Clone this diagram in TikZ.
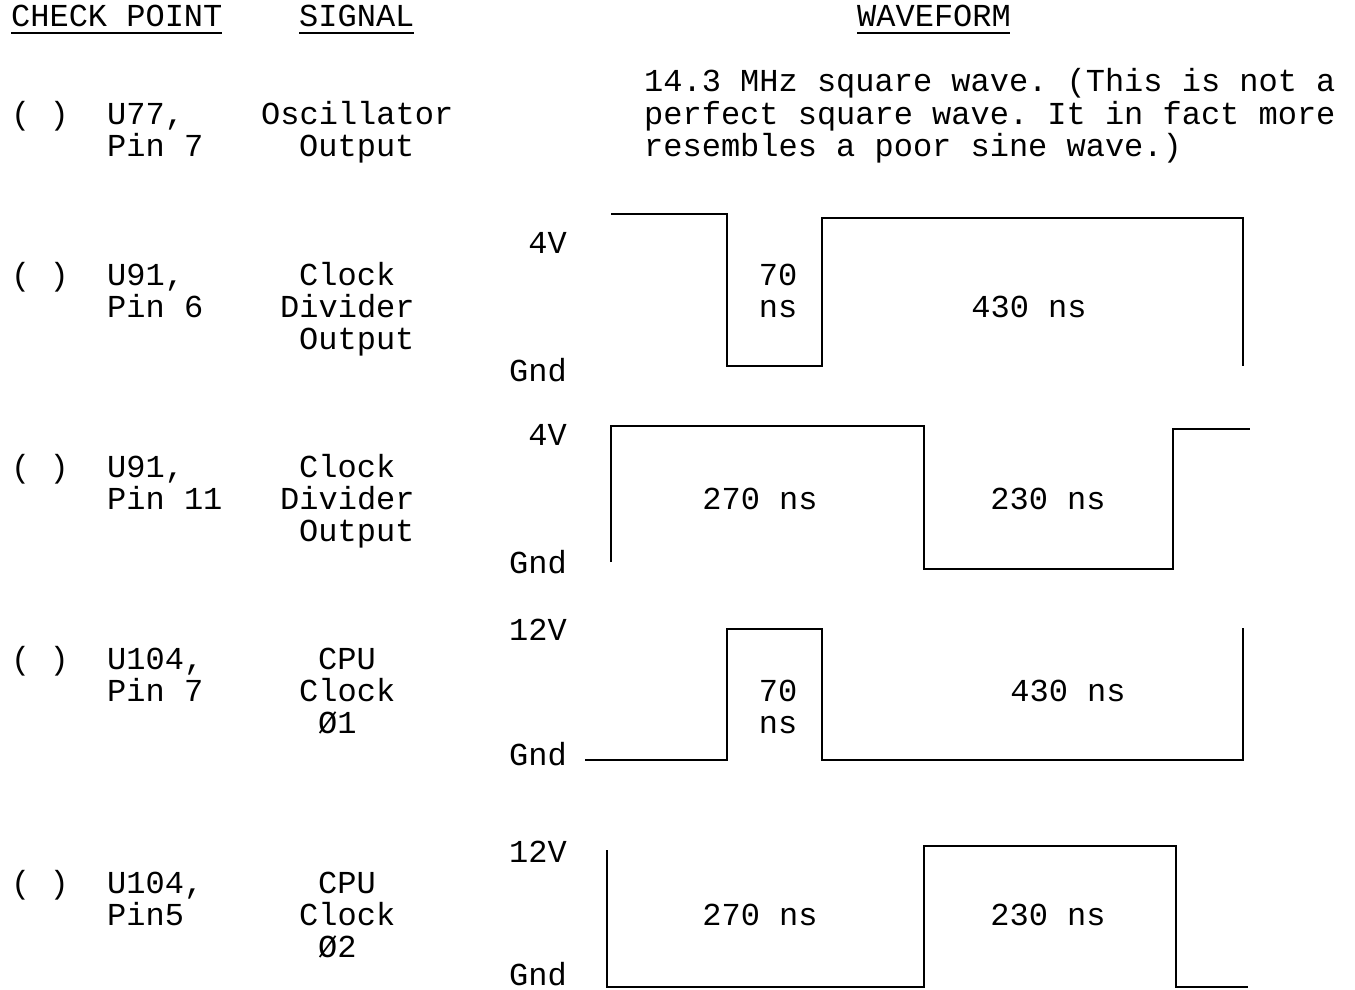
\documentclass[tikz,border=0pt]{standalone}
\usepackage{fontspec}
\setmonofont{Liberation Mono}
\tikzset{
    txt/.style={anchor=base west, inner sep=0pt, font=\ttfamily\fontsize{32}{32}\selectfont},
    ctxt/.style={txt, anchor=base},
    rtxt/.style={txt, anchor=base east},
    wave/.style={line width=2.5pt},
}
\begin{document}
\begin{tikzpicture}[x=1pt,y=-1pt]
    \useasboundingbox (0,0) rectangle (1355,990);
    % headings
    \node[txt] (hcp) at (11,27) {CHECK POINT};
    \node[txt] (hsig) at (299,27) {SIGNAL};
    \node[txt] (hwave) at (857,27) {WAVEFORM};
    \draw[line width=1.5pt] (hcp.base west) ++(0,6) -- ++(211,0);
    \draw[line width=1.5pt] (hsig.base west) ++(0,6) -- ++(115,0);
    \draw[line width=1.5pt] (hwave.base west) ++(0,6) -- ++(153,0);

    % U77 pin 7
    \node[txt] (b1) at (11,124) {( )};
    \node[txt] (cp1a) at (107,124) {U77,};
    \node[txt] (cp1b) at (107,156) {Pin 7};
    \node[txt] (s1a) at (261,124) {Oscillator};
    \node[txt] (s1b) at (299,156) {Output};
    \node[txt] (w1a) at (644,92) {14.3 MHz square wave. (This is not a};
    \node[txt] (w1b) at (644,124) {perfect square wave. It in fact more};
    \node[txt] (w1c) at (644,156) {resembles a poor sine wave.)};

    % U91 pin 6
    \node[txt] (b2) at (11,285) {( )};
    \node[txt] (cp2a) at (107,285) {U91,};
    \node[txt] (cp2b) at (107,317) {Pin 6};
    \node[txt] (s2a) at (299,285) {Clock};
    \node[txt] (s2b) at (280,317) {Divider};
    \node[txt] (s2c) at (299,349) {Output};
    \node[rtxt] (hi2) at (567,253) {4V};
    \node[rtxt] (lo2) at (567,381) {Gnd};
    \draw[wave] (611,214) -- (727,214) -- (727,366) -- (822,366) -- (822,218) -- (1243,218) -- (1243,366);
    \node[ctxt] (t2a) at (778,285) {70};
    \node[ctxt] (t2b) at (778,317) {ns};
    \node[ctxt] (t2c) at (1029,317) {430 ns};

    % U91 pin 11
    \node[txt] (b3) at (11,477) {( )};
    \node[txt] (cp3a) at (107,477) {U91,};
    \node[txt] (cp3b) at (107,509) {Pin 11};
    \node[txt] (s3a) at (299,477) {Clock};
    \node[txt] (s3b) at (280,509) {Divider};
    \node[txt] (s3c) at (299,541) {Output};
    \node[rtxt] (hi3) at (567,445) {4V};
    \node[rtxt] (lo3) at (567,573) {Gnd};
    \draw[wave] (611,562) -- (611,426) -- (924,426) -- (924,569) -- (1173,569) -- (1173,429) -- (1250,429);
    \node[ctxt] (t3a) at (760,509) {270 ns};
    \node[ctxt] (t3b) at (1048,509) {230 ns};

    % U104 pin 7
    \node[txt] (b4) at (11,669) {( )};
    \node[txt] (cp4a) at (107,669) {U104,};
    \node[txt] (cp4b) at (107,701) {Pin 7};
    \node[txt] (s4a) at (318,669) {CPU};
    \node[txt] (s4b) at (299,701) {Clock};
    \node[txt] (s4c) at (318,733) {Ø1};
    \node[rtxt] (hi4) at (567,640) {12V};
    \node[rtxt] (lo4) at (567,765) {Gnd};
    \draw[wave] (585,760) -- (727,760) -- (727,629) -- (822,629) -- (822,760) -- (1243,760) -- (1243,628);
    \node[ctxt] (t4a) at (778,701) {70};
    \node[ctxt] (t4b) at (778,733) {ns};
    \node[ctxt] (t4c) at (1068,701) {430 ns};

    % U104 pin 5
    \node[txt] (b5) at (11,893) {( )};
    \node[txt] (cp5a) at (107,893) {U104,};
    \node[txt] (cp5b) at (107,925) {Pin5};
    \node[txt] (s5a) at (318,893) {CPU};
    \node[txt] (s5b) at (299,925) {Clock};
    \node[txt] (s5c) at (318,957) {Ø2};
    \node[rtxt] (hi5) at (567,862) {12V};
    \node[rtxt] (lo5) at (567,985) {Gnd};
    \draw[wave] (607,850) -- (607,987) -- (924,987) -- (924,846) -- (1176,846) -- (1176,987) -- (1248,987);
    \node[ctxt] (t5a) at (760,925) {270 ns};
    \node[ctxt] (t5b) at (1048,925) {230 ns};
\end{tikzpicture}
\end{document}
